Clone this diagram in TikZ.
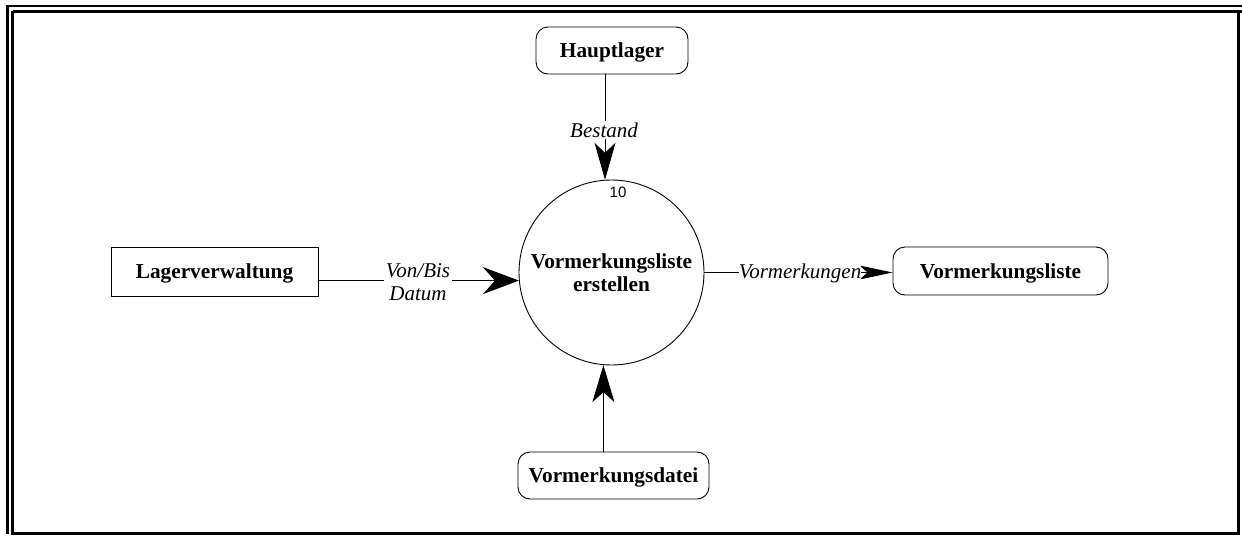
\documentclass[tikz,border=0pt]{standalone}
\usepackage{fontspec}
\setmainfont{Liberation Serif}
\newfontfamily\numfont{Liberation Sans}
\usetikzlibrary{arrows.meta,calc}

\begin{document}
\begin{tikzpicture}[x=1pt,y=-1pt,
  bold/.style={font=\fontsize{21.3}{23}\selectfont\bfseries, align=center},
  extbox/.style={bold, draw, line width=0.9pt, inner sep=0pt, text depth=0pt},
  storebox/.style={extbox, rounded corners=12pt},
  process/.style={bold, draw, circle, line width=0.9pt, inner sep=0pt, minimum size=185pt},
  flowlabel/.style={font=\fontsize{21}{25}\selectfont\itshape, fill=white, inner sep=1.5pt, align=center},
  flow/.style={line width=0.9pt}
]
\useasboundingbox (0,0) rectangle (1242,536);

% frame
\draw[line width=2.6pt] (7.5,534) -- (7.5,6) -- (1242,6);
\draw[line width=3pt] (12.5,11) -- (1242,11);
\draw[line width=3pt] (12.5,11) -- (12.5,533) -- (1238.5,533) -- (1238.5,11);

% process
\node[process] (p) at (611.5,272.5) {Vormerkungsliste\\erstellen};
\node[font=\numfont\fontsize{15}{17}\selectfont] (pid) at (618,192) {10};

% terminators
\node[storebox, minimum width=152pt, minimum height=47pt] (hl) at (612,50.5) {Hauptlager};
\node[extbox, minimum width=207pt, minimum height=49pt] (lv) at (214.5,271.5) {Lagerverwaltung};
\node[storebox, minimum width=215pt, minimum height=48pt] (vl) at (1000.5,271) {Vormerkungsliste};
\node[storebox, minimum width=191pt, minimum height=47pt] (vd) at (613.5,475.5) {Vormerkungsdatei};

% data flows
\draw[flow, -{Stealth[length=37pt,width=21pt,inset=10pt]}] (hl.south -| p.94.65) -- (p.94.65);
\node[flowlabel] (lb) at (604,130) {Bestand};

\draw[flow, -{Stealth[length=36pt,width=27pt,inset=12pt]}] (lv.east |- p.185.9) -- (p.185.9);
\node[flowlabel] (lvd) at (418,282) {Von/Bis\\[-2pt]Datum};

\draw[flow, -{Stealth[length=33pt,width=14pt,inset=8pt]}] (p.0) -- (vl.west |- p.0);
\node[flowlabel, inner sep=0pt] (lvm) at (800,273) {Vormerkungen};

\draw[flow, -{Stealth[length=37pt,width=22pt,inset=10pt]}] (vd.north -| p.265.35) -- (p.265.35);
\end{tikzpicture}
\end{document}
